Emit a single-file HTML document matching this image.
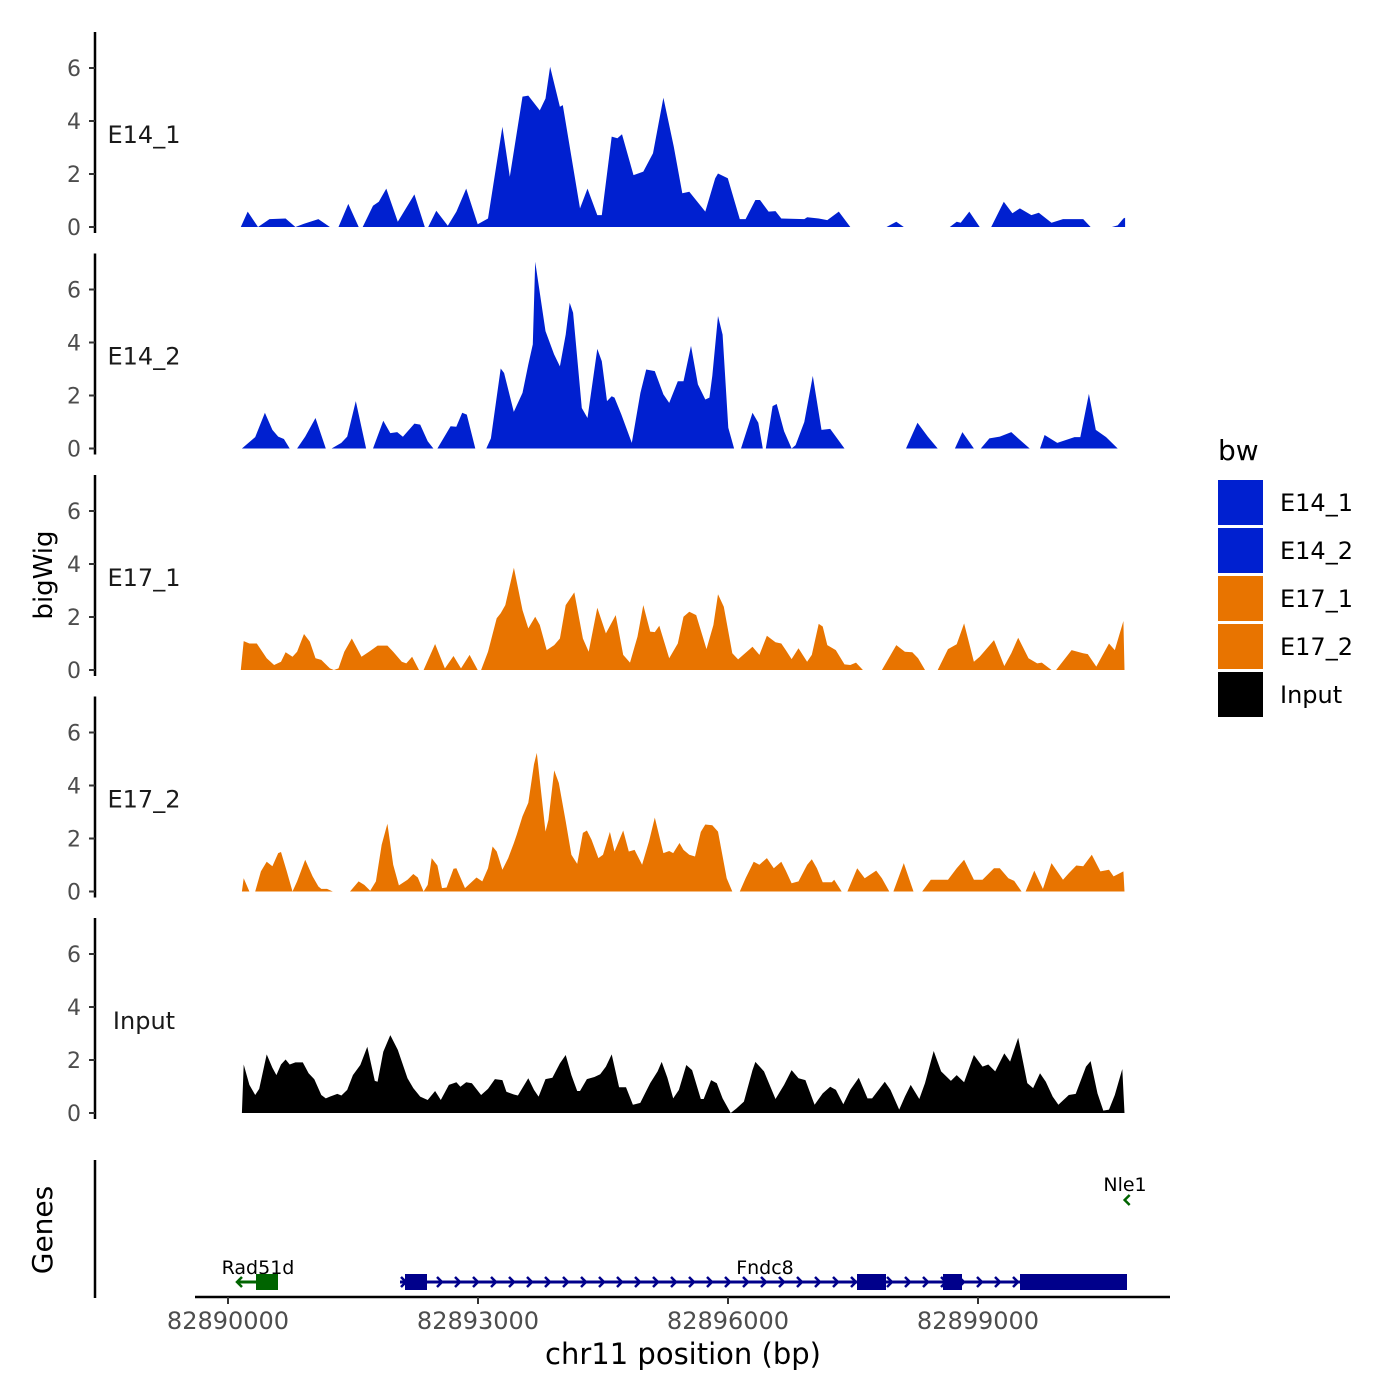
<!DOCTYPE html>
<html><head><meta charset="utf-8"><style>
html,body{margin:0;padding:0;background:#fff;}
svg{display:block;font-family:"DejaVu Sans","Liberation Sans",sans-serif;}
</style></head><body>
<svg id="chart" width="1400" height="1400" viewBox="0 0 1400 1400" xmlns="http://www.w3.org/2000/svg">
<rect width="1400" height="1400" fill="#fff"/>
<g id="tracks"></g>
<g id="genes"></g>
<g id="axes"></g>
<text x="52" y="575" transform="rotate(-90 52 575)" text-anchor="middle" font-size="26" fill="#000">bigWig</text>
<text x="52" y="1230" transform="rotate(-90 52 1230)" text-anchor="middle" font-size="28" fill="#000">Genes</text>
<text x="683" y="1364" text-anchor="middle" font-size="29" fill="#000">chr11 position (bp)</text>
<g id="legend">
<text x="1218" y="460" font-size="28" fill="#000">bw</text>
</g>
</svg>
<script>
const chromStart = 82890000;
const trackNames = ["E14_1","E14_2","E17_1","E17_2","Input"];
const trackColors = ["#0020d0","#0020d0","#e87400","#e87400","#000000"];
const yTicks = [0,2,4,6];
const xTicks = [82890000,82893000,82896000,82899000];

const e14_1Pos = [153,236,360,498,691,809,912,1085,1223,1326,1443,1568,1616,1740,1809,1899,2037,2237,2361,2402,2499,2637,2741,2858,2996,3120,3293,3382,3534,3603,3741,3810,3865,3983,4017,4224,4314,4431,4486,4604,4673,4728,4866,4983,5100,5225,5349,5452,5535,5728,5846,5880,5997,6142,6211,6329,6384,6487,6570,6639,6915,6950,7088,7191,7329,7467,7902,8019,8109,8661,8744,8792,8895,9020,9158,9309,9413,9503,9641,9730,9882,10020,10262,10351,10607,10676,10745,10765];
const e14_1Val = [0,.58,0,.3,.32,0,.12,.3,0,0,.87,0,0,.8,.95,1.45,.2,1.23,0,0,.61,.05,.58,1.45,.1,.32,3.78,1.9,4.92,4.96,4.4,4.85,6.05,4.54,4.6,.7,1.45,.45,.45,3.41,3.35,3.5,1.96,2.09,2.78,4.88,3.03,1.27,1.33,.58,1.84,2.02,1.84,.3,.3,1.02,1.02,.58,.6,.32,.3,.37,.32,.26,.58,0,0,.2,0,0,.2,.16,.58,0,0,.95,.52,.7,.45,.54,.16,.3,.3,0,0,.06,.32,.35];

const e14_2Pos = [167,326,443,533,602,671,740,829,926,1050,1174,1243,1360,1430,1533,1657,1740,1864,1947,2030,2099,2237,2306,2396,2465,2513,2671,2740,2810,2865,2968,3099,3155,3272,3313,3430,3534,3603,3658,3686,3810,3913,3983,4052,4100,4141,4245,4314,4431,4486,4548,4604,4638,4721,4845,4949,5018,5121,5225,5294,5397,5466,5556,5639,5728,5777,5811,5880,5935,6004,6073,6156,6294,6363,6418,6453,6535,6584,6673,6763,6811,6915,7018,7122,7226,7398,8136,8274,8398,8516,8723,8813,8951,9033,9137,9261,9399,9482,9620,9744,9799,9951,10158,10227,10331,10413,10537,10676];
const e14_2Val = [0,.43,1.35,.7,.45,.36,0,0,.45,1.15,0,0,.21,.45,1.79,0,0,1.05,.58,.62,.44,.94,.9,.27,0,0,.84,.82,1.35,1.28,0,0,.38,3.02,2.85,1.38,2.1,3.17,3.93,7.05,4.43,3.55,3.1,4.3,5.5,5.12,1.53,1.15,3.76,3.29,1.79,1.97,1.92,1.28,.21,2.1,2.98,2.92,2.04,1.72,2.54,2.54,3.87,2.42,1.85,1.92,2.74,5.0,4.3,.78,0,0,1.35,.97,0,0,1.6,1.68,.65,0,.13,1.0,2.74,.7,.74,0,0,.97,.45,0,0,.62,0,0,.38,.45,.62,.38,0,0,.51,.21,.43,.43,2.06,.7,.43,0];

const e17_1Pos = [153,188,257,346,464,553,636,691,774,829,912,981,1050,1119,1223,1271,1326,1395,1485,1602,1692,1795,1913,1982,2085,2140,2209,2292,2347,2485,2603,2706,2796,2899,2996,3037,3120,3224,3272,3327,3431,3534,3603,3686,3741,3824,3914,3983,4052,4155,4259,4328,4431,4535,4652,4742,4824,4914,4983,5066,5121,5176,5294,5397,5466,5535,5618,5742,5825,5880,5949,6052,6121,6225,6294,6377,6467,6570,6639,6694,6763,6846,6949,7005,7088,7136,7191,7294,7398,7467,7536,7619,7847,8019,8123,8212,8281,8364,8516,8640,8744,8833,8951,9020,9192,9316,9399,9482,9606,9710,9765,9882,9937,10123,10261,10317,10420,10572,10641,10745,10758];
const e17_1Val = [0,1.09,1.0,1.0,.44,.19,.31,.67,.5,.69,1.36,1.07,.44,.38,.06,0,.06,.69,1.19,.5,.69,.92,.92,.69,.31,.25,.5,0,0,.98,.06,.53,.06,.57,0,0,.69,1.95,2.14,2.45,3.86,2.26,1.57,2.01,1.7,.75,.94,1.19,2.45,2.93,1.19,.69,2.35,1.38,2.07,.57,.28,1.26,2.45,1.45,1.43,1.67,.44,1.0,2.01,2.2,2.07,.79,1.7,2.86,2.39,.63,.4,.69,.88,.57,1.29,1.05,1.0,.75,.41,.82,.31,.57,1.74,1.64,.94,.75,.21,.19,.28,0,0,.94,.69,.67,.44,0,0,.79,.97,1.76,.31,.5,1.13,.15,.63,1.22,.44,.25,.28,0,0,.75,.63,.6,.13,1.0,.75,1.85,0];

const e17_2Pos = [167,188,257,326,395,464,533,602,636,705,774,829,926,1015,1085,1119,1188,1257,1464,1567,1636,1706,1775,1844,1913,1982,2051,2154,2223,2278,2347,2396,2444,2513,2568,2623,2706,2741,2844,2982,3051,3120,3175,3224,3293,3362,3431,3465,3534,3603,3672,3706,3810,3845,3914,3969,4052,4121,4190,4259,4307,4362,4445,4500,4583,4638,4742,4810,4879,4969,5052,5121,5225,5294,5342,5418,5466,5535,5604,5673,5728,5811,5880,5984,6052,6142,6211,6308,6377,6467,6549,6639,6694,6763,6846,6950,7005,7067,7136,7246,7274,7364,7433,7550,7640,7778,7847,7936,7985,8109,8226,8330,8433,8640,8744,8833,8951,9054,9192,9261,9365,9434,9523,9571,9675,9779,9882,10020,10089,10179,10262,10365,10469,10572,10627,10745,10758];
const e17_2Val = [0,.5,0,0,.76,1.12,.95,1.45,1.49,.76,0,.38,1.2,.57,.19,.1,.1,0,0,.38,.25,.03,.38,1.77,2.56,1.01,.23,.44,.66,.53,0,.25,1.26,.98,.13,.15,.86,.88,.13,.53,.38,.88,1.7,1.51,.82,1.26,1.83,2.15,2.84,3.35,4.8,5.23,2.26,2.7,4.57,4.1,2.65,1.39,1.04,2.21,2.3,1.96,1.26,1.39,2.25,1.51,2.3,1.51,1.57,1.01,1.89,2.79,1.45,1.53,1.45,1.83,1.57,1.39,1.32,2.25,2.53,2.5,2.26,.5,0,0,.5,1.12,1.01,1.26,.88,1.12,.79,.31,.38,1.01,1.22,.88,.35,.35,.44,0,0,.88,.5,.79,.5,0,0,1.07,0,0,.44,.44,.88,1.2,.44,.44,.88,.88,.5,.4,0,0,.79,.1,1.07,.44,.69,.98,.95,1.39,.76,.82,.57,.76,0];

const inputPos = [167,188,257,326,374,464,533,581,636,691,740,809,898,967,1036,1119,1174,1223,1312,1361,1430,1499,1588,1671,1761,1795,1864,1947,2037,2154,2223,2306,2396,2485,2554,2651,2741,2789,2858,2927,3037,3120,3203,3293,3341,3431,3479,3603,3672,3727,3810,3893,3983,4052,4121,4190,4224,4307,4397,4466,4535,4604,4693,4776,4859,4948,5066,5155,5204,5273,5342,5411,5500,5569,5673,5708,5797,5866,5935,6032,6101,6191,6294,6329,6432,6570,6673,6763,6846,6929,7039,7136,7226,7295,7384,7467,7570,7674,7729,7881,7950,8054,8123,8192,8295,8364,8468,8557,8675,8744,8833,8951,9054,9123,9206,9316,9385,9482,9592,9661,9744,9813,9896,9965,10089,10172,10296,10351,10434,10503,10572,10641,10731,10758];
const inputVal = [0,1.83,1.06,.68,.91,2.21,1.71,1.43,1.83,2.02,1.83,1.91,1.91,1.5,1.27,.68,.55,.62,.72,.66,.87,1.43,1.81,2.5,1.21,1.18,2.31,2.94,2.38,1.31,.94,.62,.49,.83,.49,1.06,1.16,.99,1.16,1.12,.68,.91,1.28,1.24,.8,.7,.66,1.31,.87,.62,1.28,1.33,1.87,2.19,1.43,.83,.83,1.28,1.36,1.46,1.75,2.21,.97,.97,.31,.38,1.13,1.57,1.93,1.33,.55,.87,1.81,1.62,.53,.53,1.24,1.12,.55,0,.17,.43,1.62,1.93,1.57,.53,1.06,1.62,1.31,1.24,.31,.74,.99,.87,.33,.87,1.33,.55,.55,1.18,.87,.13,.62,1.06,.53,1.13,2.34,1.57,1.21,1.43,1.16,2.19,1.75,1.83,1.57,2.25,1.94,2.84,1.13,.94,1.5,1.18,.62,.31,.68,.72,1.75,1.96,.74,.09,.13,.68,1.66,0];

const trackPos = [e14_1Pos,e14_2Pos,e17_1Pos,e17_2Pos,inputPos];
const trackVal = [e14_1Val,e14_2Val,e17_1Val,e17_2Val,inputVal];

const geneNames = ["Rad51d","Fndc8","Nle1"];
const geneStart = [108,2064,10760];
const geneEnd = [600,10788,10800];
const geneStrand = [-1,1,-1];
const geneColors = ["#006400","#00008b","#006400"];
const exonGene = [0,1,1,1,1];
const exonStart = [336,2124,7548,8580,9504];
const exonEnd = [600,2388,7896,8808,10788];

const NS="http://www.w3.org/2000/svg";
function mk(tag,attrs,parent){const e=document.createElementNS(NS,tag);for(const k in attrs)e.setAttribute(k,attrs[k]);parent.appendChild(e);return e;}
const xScale = bp => 228 + (bp - chromStart)/12;
const xOff = off => xScale(chromStart + off);
const panelBase = i => 227 + i*221.5;
const yScale = (i,v) => panelBase(i) - v*26.5;

const tracksG=document.getElementById('tracks');
const axesG=document.getElementById('axes');
trackNames.forEach((name,i)=>{
  const pos=trackPos[i], val=trackVal[i];
  let d="M"+xOff(pos[0]).toFixed(1)+","+panelBase(i);
  for(let k=0;k<pos.length;k++) d+="L"+xOff(pos[k]).toFixed(1)+","+yScale(i,val[k]).toFixed(1);
  d+="L"+xOff(pos[pos.length-1]).toFixed(1)+","+panelBase(i)+"Z";
  const p=mk('path',{d:d,fill:trackColors[i]},tracksG);
  
  
  const lbl=mk('text',{x:144,y:panelBase(i)-84,'text-anchor':'middle','font-size':24,fill:'#1a1a1a'},tracksG);
  lbl.textContent=name;
  
  
  const top=panelBase(i)-195, bot=panelBase(i)+6;
  const ax=mk('line',{x1:95,x2:95,y1:top,y2:bot,stroke:'#000','stroke-width':2.5},axesG);
  
  
  yTicks.forEach(t=>{
    const y=yScale(i,t);
    const tk=mk('line',{x1:89,x2:95,y1:y,y2:y,stroke:'#333','stroke-width':2},axesG);
    
    
    const tl=mk('text',{x:81,y:y+8,'text-anchor':'end','font-size':22,fill:'#4d4d4d'},axesG);
    tl.textContent=t;
    
    
  });
});
const gax=mk('line',{x1:95,x2:95,y1:1160,y2:1298,stroke:'#000','stroke-width':2.5},axesG);


const xax=mk('line',{x1:195,x2:1170,y1:1297,y2:1297,stroke:'#000','stroke-width':2.5},axesG);


xTicks.forEach(t=>{
  const x=xScale(t);
  const tk=mk('line',{x1:x,x2:x,y1:1297,y2:1304,stroke:'#333','stroke-width':2},axesG);
  
  
  const tl=mk('text',{x:x,y:1329,'text-anchor':'middle','font-size':24,fill:'#4d4d4d'},axesG);
  tl.textContent=t;
  
  
});
const genesG=document.getElementById('genes');
const geneY=[1282,1282,1200];
geneNames.forEach((g,i)=>{
  const x1=xOff(geneStart[i]), x2=xOff(geneEnd[i]), y=geneY[i], c=geneColors[i];
  const grp=mk('g',{},genesG);
  
  
  if(i<2) mk('line',{x1:x1,x2:x2,y1:y,y2:y,stroke:c,'stroke-width':3},grp);
  const step=18;
  if(geneStrand[i]>0){
    for(let x=x1+4;x<x2-4;x+=step) mk('polyline',{points:`${x-3},${y-5} ${x+2},${y} ${x-3},${y+5}`,fill:'none',stroke:c,'stroke-width':2.5},grp);
  } else {
    mk('polyline',{points:`${x1+5},${y-5} ${x1},${y} ${x1+5},${y+5}`,fill:'none',stroke:c,'stroke-width':2.5},grp);
  }
  const lx = i===2 ? 1125 : (i===0 ? 258 : 765);
  const ly = i===2 ? 1191 : 1274;
  const t=mk('text',{x:lx,y:ly,'text-anchor':'middle','font-size':19,fill:'#000'},grp);
  t.textContent=g;
  
  
});
exonStart.forEach((s,k)=>{
  const g=exonGene[k];
  const r=mk('rect',{x:xOff(s),y:geneY[g]-8,width:xOff(exonEnd[k])-xOff(s),height:16,fill:geneColors[g]},genesG);
  
  
});
const legG=document.getElementById('legend');
const legNames=["E14_1","E14_2","E17_1","E17_2","Input"];
legNames.forEach((n,i)=>{
  const y=480+i*48;
  const r=mk('rect',{x:1218,y:y,width:45,height:45,fill:trackColors[i]},legG);
  
  
  const t=mk('text',{x:1280,y:y+31,'font-size':24,fill:'#000'},legG);
  t.textContent=n;
  
  
});
</script>
</body></html>
